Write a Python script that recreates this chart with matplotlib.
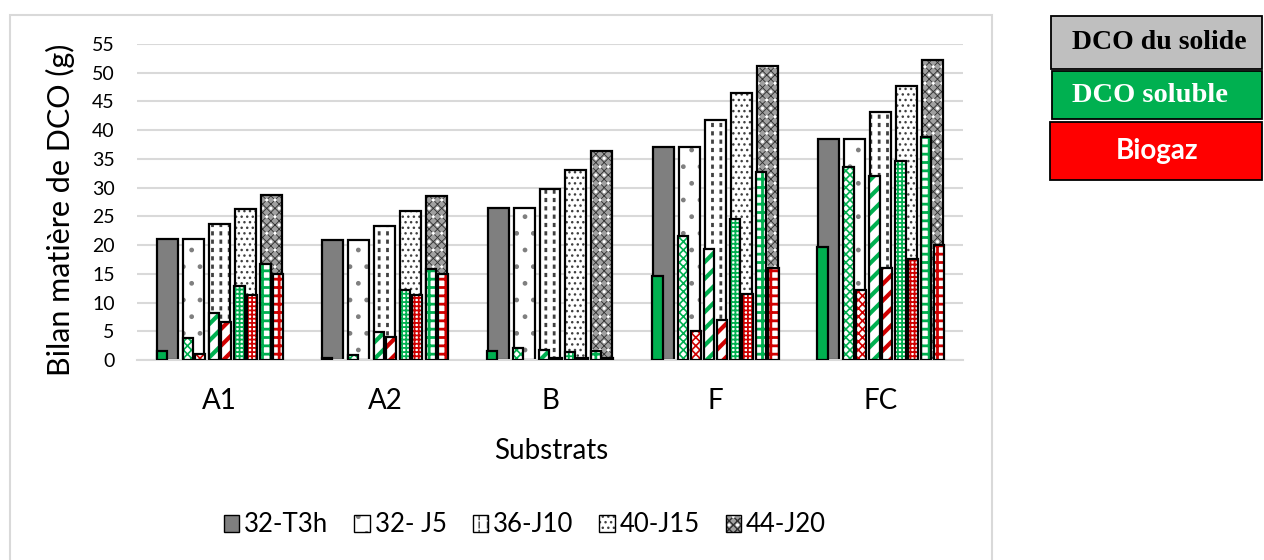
import matplotlib
matplotlib.use("Agg")
import matplotlib.pyplot as plt
import numpy as np
from matplotlib.patches import Patch, Rectangle

# ---------------- data ----------------
substrats = ["A1", "A2", "B", "F", "FC"]
series = ["32-T3h", "32- J5", "36-J10", "40-J15", "44-J20"]

# rows = series (T3h, J5, J10, J15, J20), columns = substrats
dco_solide = [
    [21.0, 20.8, 26.4, 37.1, 38.5],
    [21.0, 20.8, 26.4, 37.1, 38.5],
    [23.6, 23.4, 29.7, 41.8, 43.2],
    [26.2, 25.9, 33.1, 46.5, 47.7],
    [28.8, 28.6, 36.4, 51.1, 52.3],
]
dco_soluble = [
    [1.6, 0.4, 1.6, 14.6, 19.7],
    [3.8, 0.8, 2.1, 21.5, 33.6],
    [8.2, 4.9, 1.7, 19.3, 32.0],
    [12.8, 12.1, 1.4, 24.5, 34.7],
    [16.7, 15.9, 1.6, 32.8, 38.9],
]
biogaz = [
    [0.0, 0.0, 0.0, 0.0, 0.0],
    [1.1, 0.0, 0.0, 5.0, 12.1],
    [6.7, 4.0, 0.3, 7.0, 16.0],
    [11.3, 11.4, 0.3, 11.5, 17.6],
    [15.0, 15.0, 0.4, 16.0, 20.1],
]

side_labels = ["DCO du solide", "DCO soluble", "Biogaz"]

# ---------------- style ----------------
plt.rcParams['font.family'] = ['Lato', 'DejaVu Sans']
W, H = 1264, 560
def fx(px): return px / W
def fy(py): return 1 - py / H

GREEN = '#00B050'
RED = '#D00000'
GRID = '#D9D9D9'

solid_styles = [
    dict(face='#7F7F7F', layers=[]),
    dict(face='white', layers=[('#7F7F7F', '.', 1.0)]),
    dict(face='white', layers=[('#404040', '||', 2.0), ('white', '--', 3.0)]),
    dict(face='white', layers=[('#404040', '...', 1.0)]),
    dict(face='#A0A0A0', layers=[('#303030', 'xxxx', 0.6), ('white', '..', 1.0)]),
]

def part_styles(c):
    return [
        dict(face=c, layers=[]),
        dict(face='white', layers=[(c, 'xxxx', 1.2)]),
        dict(face='white', layers=[(c, '//', 3.0)]),
        dict(face='white', layers=[(c, '++++', 1.3)]),
        dict(face='white', layers=[(c, '++', 2.0)]),
    ]

def styled_bars(ax, x, h, w, style, z):
    x = np.asarray(x, float); h = np.asarray(h, float)
    m = h > 0
    x, h = x[m], h[m]
    if len(x) == 0:
        return
    ax.bar(x, h, w, color=style['face'], linewidth=0, zorder=z)
    for i, (hc, hp, hlw) in enumerate(style['layers']):
        with plt.rc_context({'hatch.linewidth': hlw}):
            bs = ax.bar(x, h, w, facecolor='none', edgecolor=hc, linewidth=0,
                        hatch=hp, zorder=z + 0.01 * (i + 1))
        for p in bs:
            if hasattr(p, 'set_hatch_linewidth'):
                p.set_hatch_linewidth(hlw)
    ax.bar(x, h, w, fill=False, edgecolor='black', linewidth=1.6, zorder=z + 0.1)

def legend_handle(style):
    parts = [Patch(facecolor=style['face'], linewidth=0)]
    for hc, hp, hlw in style['layers']:
        with plt.rc_context({'hatch.linewidth': hlw}):
            p = Patch(facecolor='none', edgecolor=hc, linewidth=0, hatch=hp)
        if hasattr(p, 'set_hatch_linewidth'):
            p.set_hatch_linewidth(hlw)
        parts.append(p)
    parts.append(Patch(fill=False, edgecolor='black', linewidth=1.0))
    return tuple(parts)

# ---------------- figure ----------------
fig = plt.figure(figsize=(W / 100, H / 100), dpi=100)
ax = fig.add_axes([fx(137), fy(360), fx(963) - fx(137), fy(44) - fy(360)])

xc = np.arange(len(substrats))
wide_w = 0.127
step = 0.157
narrow_w = 0.062
g_off = -0.036
r_off = 0.039

gstyles = part_styles(GREEN)
rstyles = part_styles(RED)
for i in range(len(series)):
    xs = xc + (i - 2) * step
    styled_bars(ax, xs, dco_solide[i], wide_w, solid_styles[i], 2)
    styled_bars(ax, xs + g_off, dco_soluble[i], narrow_w, gstyles[i], 3)
    styled_bars(ax, xs + r_off, biogaz[i], narrow_w, rstyles[i], 3)

ax.set_xlim(-0.5, len(substrats) - 0.5)
ax.set_ylim(0, 55)
ax.set_yticks(np.arange(0, 56, 5))
ax.set_xticks(xc, substrats)
ax.tick_params(axis='y', length=0, pad=16, labelsize=14)
ax.tick_params(axis='x', length=0, pad=20, labelsize=20)
ax.yaxis.grid(True, color=GRID, linewidth=1.5)
ax.set_axisbelow(True)
for s in ['top', 'right', 'left']:
    ax.spines[s].set_visible(False)
ax.spines['bottom'].set_color(GRID)
ax.spines['bottom'].set_linewidth(1.5)

fig.text(fx(60), fy(210), "Bilan matière de DCO (g)", rotation=90,
         ha='center', va='center', fontsize=22)
fig.text(fx(551), fy(451), "Substrats", ha='center', va='center', fontsize=20)

handles = [legend_handle(s) for s in solid_styles]
fig.legend(handles, series, loc='center', bbox_to_anchor=(fx(525), fy(525)),
           ncol=5, frameon=False, handlelength=0.6, handleheight=0.6,
           handletextpad=0.2, columnspacing=1.0, fontsize=18.5)

# chart frame
fig.add_artist(Rectangle((fx(10), fy(565)), fx(992) - fx(10), fy(15) - fy(565),
                         transform=fig.transFigure, fill=False,
                         edgecolor=GRID, linewidth=1.5))

# side boxes
boxes = [
    (1051, 16, 69, '#BFBFBF', 'black', 'Liberation Serif', 1072, 'left', 20),
    (1052, 71, 119, GREEN, 'white', 'Liberation Serif', 1072, 'left', 20.5),
    (1050, 122, 180, '#FF0000', 'white', 'Lato', 1157, 'center', 20),
]
for (x0, y0, y1, fc, tc, fam, tx, ha, fs), lab in zip(boxes, side_labels):
    fig.add_artist(Rectangle((fx(x0), fy(y1)), fx(1262) - fx(x0), fy(y0) - fy(y1),
                             transform=fig.transFigure, facecolor=fc,
                             edgecolor='black', linewidth=1.3))
    fig.text(fx(tx), fy((y0 + y1) / 2), lab, ha=ha, va='center',
             fontsize=fs, fontweight='bold', color=tc, family=fam)

fig.savefig("out.png", dpi=100)
